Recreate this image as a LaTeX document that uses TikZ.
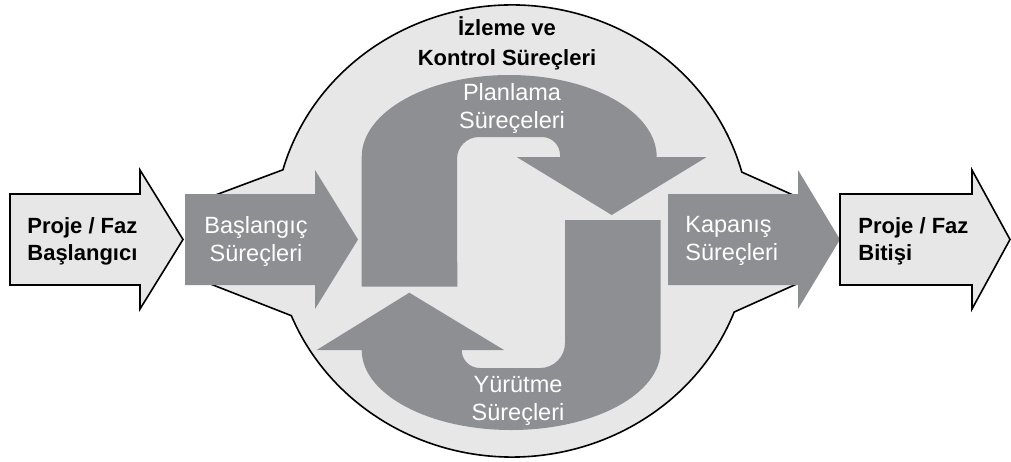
\documentclass[tikz,border=0pt]{standalone}
\usepackage{fontspec}
\setmainfont{Liberation Sans}
\usepackage{tikz}
\definecolor{procGray}{RGB}{142,143,147}
\definecolor{paleGray}{RGB}{231,231,231}

\begin{document}
\begin{tikzpicture}[
    x=0.5pt, y=-0.5pt,
    phase/.style={fill=paleGray, draw=black, line width=0.8pt, line join=miter},
    proc/.style={fill=procGray},
    dark/.style={font=\fontsize{11}{13.5}\selectfont\bfseries, text=black, inner sep=0pt},
    pale/.style={font=\fontsize{11.75}{14}\selectfont, text=white, inner sep=0pt}
]
\useasboundingbox (0,0) rectangle (1011,461);

% ---- monitoring & control: ellipse with two flanges ----
\path[phase] (200,200.8) -- (282.9,169.8)
    arc[start angle=195.7, end angle=344.9, x radius=238, y radius=226]
    -- (810,202.6) -- (810,278) -- (734.2,312)
    arc[start angle=21, end angle=158, x radius=238, y radius=226]
    -- (200,279.9) -- cycle;

% ---- planning: U-turn down into the loop ----
\path[proc] (361.7,286.7) -- (361.7,157)
    arc[start angle=180, end angle=360, x radius=147.5, y radius=82]
    -- (706.7,157) -- (611.7,215) -- (516.7,157) -- (560,157) -- (560,155)
    arc[start angle=0, end angle=-90, radius=18]
    -- (479,137) arc[start angle=270, end angle=180, radius=22]
    -- (457.3,286.7) -- cycle;

% ---- executing: U-turn back up to planning ----
\path[proc] (565,220) -- (660.7,220) -- (660.7,350)
    arc[start angle=0, end angle=180, x radius=149.5, y radius=80]
    -- (316.7,350) -- (409.3,292.7) -- (504,350) -- (461.7,350)
    arc[start angle=180, end angle=90, radius=18]
    -- (540,368) arc[start angle=90, end angle=0, radius=25]
    -- cycle;

% ---- straight arrows: project start, initiating, closing, project end ----
\foreach \sty/\xa/\xb/\xc in {phase/10/140/183, proc/185/315/358,
                              proc/668/798/840, phase/840/972/1010}{%
  \path[\sty] (\xa,194) -- (\xb,194) -- (\xb,170) -- (\xc,239.5)
      -- (\xb,309) -- (\xb,285) -- (\xa,285) -- cycle;
}

\node[dark, align=center] (monTxt) at (507,43) {İzleme ve\\[1.5pt]Kontrol Süreçleri};
\node[pale, align=center] (planTxt) at (512,108) {Planlama\\Süreçeleri};
\node[pale, align=center] (execTxt) at (518,401) {Yürütme\\Süreçleri};
\node[pale, align=center] (initTxt) at (256,241) {Başlangıç\\Süreçleri};
\node[pale, align=left, anchor=west] (closeTxt) at (685,241) {Kapanış\\Süreçleri};
\node[dark, align=left, anchor=west] (startTxt) at (27,241) {Proje / Faz\\Başlangıcı};
\node[dark, align=left, anchor=west] (endTxt) at (858,241) {Proje / Faz\\Bitişi};
\end{tikzpicture}
\end{document}
